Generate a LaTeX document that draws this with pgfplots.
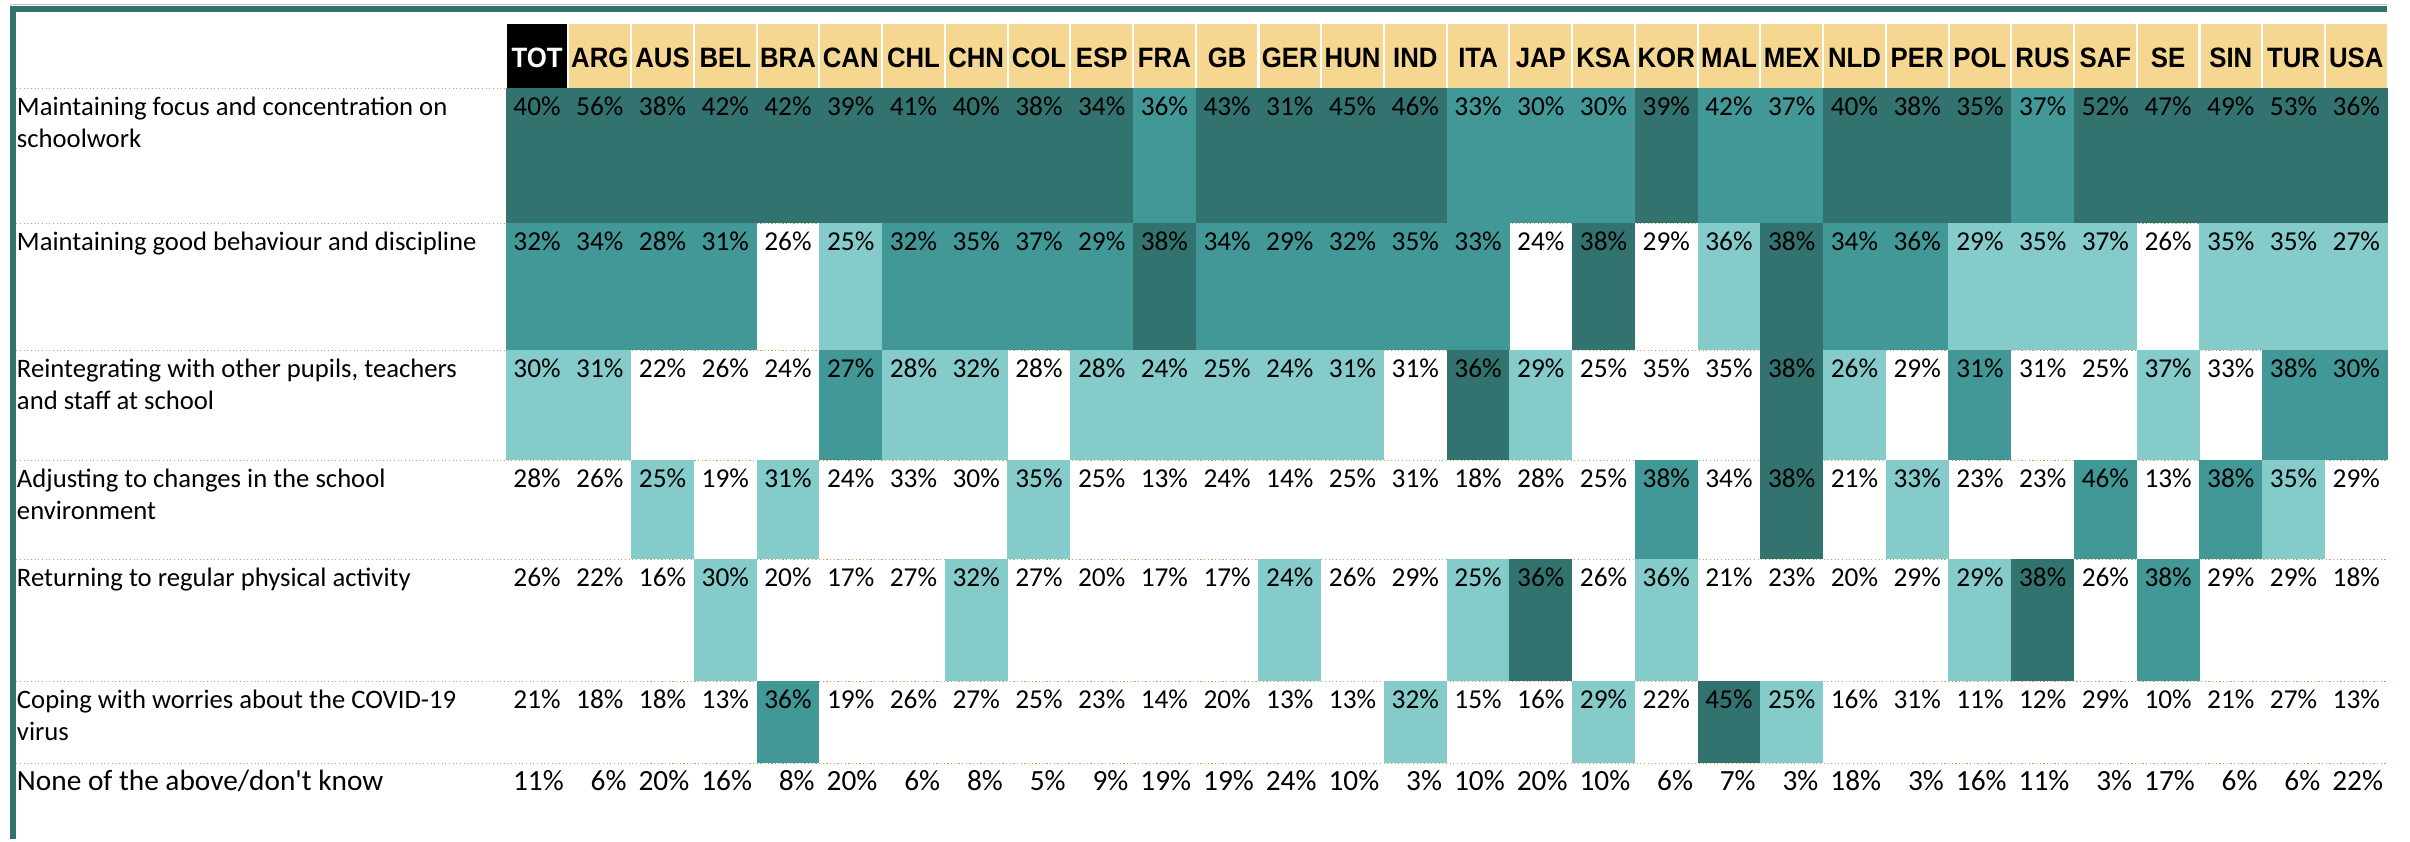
\documentclass[border=0pt]{standalone}
\usepackage{pgfplots}
\pgfplotsset{compat=1.18}
\usepackage{pgfplotstable}
\usepackage{fontspec}
\setmainfont{Carlito}
\newfontfamily\hdrfont[FakeStretch=0.92]{Liberation Sans}
\definecolor{cDark}{HTML}{32736F}
\definecolor{cMed}{HTML}{429797}
\definecolor{cLight}{HTML}{85CBCA}
\definecolor{cGold}{HTML}{F5D792}
\definecolor{cDot}{HTML}{C4A265}
\definecolor{cFrame}{HTML}{32736F}
\definecolor{cFrameLight}{HTML}{B4CACA}

\pgfdeclareplotmark{cell}{%
  \pgfpathrectanglecorners{\pgfpoint{-9.45pt}{-\pgfplotmarksize}}{\pgfpoint{9.45pt}{\pgfplotmarksize}}%
  \pgfusepathqfill}
\pgfdeclareplotmark{hcell}{%
  \pgfpathrectanglecorners{\pgfpoint{-9.1pt}{-\pgfplotmarksize}}{\pgfpoint{9.1pt}{\pgfplotmarksize}}%
  \pgfusepathqfill}

\newcommand{\lbl}[1]{\begin{tabular}[t]{@{}l@{}}#1\end{tabular}}

% i = column index, h = header class (1 = TOT), v1..v7 = values (%), k1..k6 = cell shade class
\pgfplotstableread{
i  h v1 v2 v3 v4 v5 v6 v7 k1 k2 k3 k4 k5 k6
0  1 40 32 30 28 26 21 11 3 2 1 0 0 0
1  0 56 34 31 26 22 18 6  3 2 1 0 0 0
2  0 38 28 22 25 16 18 20 3 2 0 1 0 0
3  0 42 31 26 19 30 13 16 3 2 0 0 1 0
4  0 42 26 24 31 20 36 8  3 0 0 1 0 2
5  0 39 25 27 24 17 19 20 3 1 2 0 0 0
6  0 41 32 28 33 27 26 6  3 2 1 0 0 0
7  0 40 35 32 30 32 27 8  3 2 1 0 1 0
8  0 38 37 28 35 27 25 5  3 2 0 1 0 0
9  0 34 29 28 25 20 23 9  3 2 1 0 0 0
10 0 36 38 24 13 17 14 19 2 3 1 0 0 0
11 0 43 34 25 24 17 20 19 3 2 1 0 0 0
12 0 31 29 24 14 24 13 24 3 2 1 0 1 0
13 0 45 32 31 25 26 13 10 3 2 1 0 0 0
14 0 46 35 31 31 29 32 3  3 2 0 0 0 1
15 0 33 33 36 18 25 15 10 2 2 3 0 1 0
16 0 30 24 29 28 36 16 20 2 0 1 0 3 0
17 0 30 38 25 25 26 29 10 2 3 0 0 0 1
18 0 39 29 35 38 36 22 6  3 0 0 2 1 0
19 0 42 36 35 34 21 45 7  2 1 0 0 0 3
20 0 37 38 38 38 23 25 3  2 3 3 3 0 1
21 0 40 34 26 21 20 16 18 3 2 1 0 0 0
22 0 38 36 29 33 29 31 3  3 2 0 1 0 0
23 0 35 29 31 23 29 11 16 3 1 2 0 1 0
24 0 37 35 31 23 38 12 11 2 1 0 0 3 0
25 0 52 37 25 46 26 29 3  3 1 0 2 0 0
26 0 47 26 37 13 38 10 17 3 0 1 0 2 0
27 0 49 35 33 38 29 21 6  3 1 0 2 0 0
28 0 53 35 38 35 29 27 6  3 1 2 1 0 0
29 0 36 27 30 29 18 13 22 3 1 2 0 0 0
}\data

\pgfplotsset{
  cellplot/.style={scatter, only marks, mark=cell, mark size=#1,
    scatter src=explicit symbolic,
    scatter/classes={1={fill=cLight},2={fill=cMed},3={fill=cDark}}},
  valplot/.style={only marks, mark=none, point meta=explicit symbolic,
    nodes near coords={\pgfplotspointmeta\%}},
}

\begin{document}
\begin{tikzpicture}
\begin{axis}[
  set layers=axis on top,
  x=0.3pt, y=0.3pt, xmin=0, xmax=2410, ymin=0, ymax=839,
  scale only axis, clip=false,
  axis line style={draw=none}, major tick length=0pt,
  xtick={536.875,599.625,662.375,725.125,787.875,850.625,913.375,976.125,1038.875,1101.625,
         1164.375,1227.125,1289.875,1352.625,1415.375,1478.125,1540.875,1603.625,1666.375,1729.125,
         1791.875,1854.625,1917.375,1980.125,2042.875,2105.625,2168.375,2231.125,2293.875,2356.625},
  xticklabel pos=upper,
  xticklabels={\textcolor{white}{TOT},ARG,AUS,BEL,BRA,CAN,CHL,CHN,COL,ESP,FRA,GB,GER,HUN,IND,ITA,JAP,KSA,KOR,MAL,MEX,NLD,PER,POL,RUS,SAF,SE,SIN,TUR,USA},
  xticklabel style={font=\hdrfont\bfseries\fontsize{8.4}{9}\selectfont, text=black, anchor=center, inner sep=0pt, yshift=-17.4pt},
  ytick={724,589,462,352,253,131,49},
  yticklabels={{\lbl{Maintaining focus and concentration on\\schoolwork}},
    {\lbl{Maintaining good behaviour and discipline}},
    {\lbl{Reintegrating with other pupils, teachers\\and staff at school}},
    {\lbl{Adjusting to changes in the school\\environment}},
    {\lbl{Returning to regular physical activity}},
    {\lbl{Coping with worries about the COVID-19\\virus}},
    {\fontsize{8.8}{10}\selectfont None of the above/don\textquotesingle t know}},
  yticklabel style={font=\fontsize{8}{9.6}\selectfont, anchor=base west, inner sep=0pt, xshift=4.8pt},
  every node near coord/.append style={anchor=base, inner sep=0pt, text=black, font=\fontsize{8.2}{9}\selectfont},
]
% header cells
\addplot[scatter, only marks, mark=hcell, mark size=9.6pt, scatter src=explicit symbolic,
  scatter/classes={0={fill=cGold},1={fill=black}}]
  table[x expr=536.875+62.75*\thisrow{i}, y expr=783, meta=h]{\data};
% dotted separators
\foreach \yy in {751,616,489,379,280,158,76}{
  \edef\tmp{\noexpand\draw[cDot, line width=0.35pt, dash pattern=on 0.35pt off 0.75pt] (axis cs:16,\yy) -- (axis cs:2388,\yy);}\tmp
}
% shaded cells
\addplot[cellplot=20.3pt, restrict expr to domain={\thisrow{k1}}{1:3}]
  table[x expr=536.875+62.75*\thisrow{i}, y expr=683.5, meta=k1]{\data};
\addplot[cellplot=19.1pt, restrict expr to domain={\thisrow{k2}}{1:3}]
  table[x expr=536.875+62.75*\thisrow{i}, y expr=552.5, meta=k2]{\data};
\addplot[cellplot=16.55pt, restrict expr to domain={\thisrow{k3}}{1:3}]
  table[x expr=536.875+62.75*\thisrow{i}, y expr=434, meta=k3]{\data};
\addplot[cellplot=14.9pt, restrict expr to domain={\thisrow{k4}}{1:3}]
  table[x expr=536.875+62.75*\thisrow{i}, y expr=329.5, meta=k4]{\data};
\addplot[cellplot=18.35pt, restrict expr to domain={\thisrow{k5}}{1:3}]
  table[x expr=536.875+62.75*\thisrow{i}, y expr=219, meta=k5]{\data};
\addplot[cellplot=12.35pt, restrict expr to domain={\thisrow{k6}}{1:3}]
  table[x expr=536.875+62.75*\thisrow{i}, y expr=117, meta=k6]{\data};
% values
\addplot[valplot] table[x expr=536.875+62.75*\thisrow{i}, y expr=724, meta=v1]{\data};
\addplot[valplot] table[x expr=536.875+62.75*\thisrow{i}, y expr=589, meta=v2]{\data};
\addplot[valplot] table[x expr=536.875+62.75*\thisrow{i}, y expr=462, meta=v3]{\data};
\addplot[valplot] table[x expr=536.875+62.75*\thisrow{i}, y expr=352, meta=v4]{\data};
\addplot[valplot] table[x expr=536.875+62.75*\thisrow{i}, y expr=253, meta=v5]{\data};
\addplot[valplot] table[x expr=536.875+62.75*\thisrow{i}, y expr=131, meta=v6]{\data};
\addplot[valplot, every node near coord/.append style={anchor=base east, font=\fontsize{8.8}{10}\selectfont}]
  table[x expr=564.25+62.75*\thisrow{i}, y expr=49, meta=v7]{\data};
% frame
\draw[cFrameLight, line width=0.4pt] (axis cs:10,834.5) -- (axis cs:2387,834.5);
\draw[cFrame, line width=1.7pt] (axis cs:13,0) -- (axis cs:13,830.5) -- (axis cs:2387,830.5);
\end{axis}
\end{tikzpicture}
\end{document}
